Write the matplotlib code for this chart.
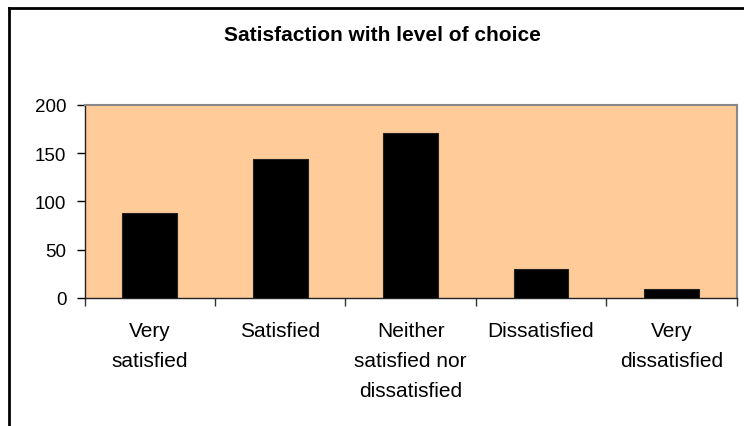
import matplotlib
matplotlib.use("Agg")
import matplotlib.pyplot as plt
from matplotlib.lines import Line2D

categories = ["Very\nsatisfied", "Satisfied", "Neither\nsatisfied nor\ndissatisfied",
              "Dissatisfied", "Very\ndissatisfied"]
values = [88, 144, 171, 30, 9]
yticks = [0, 50, 100, 150, 200]
title = "Satisfaction with level of choice"

plt.rcParams['font.family'] = ['Liberation Sans', 'DejaVu Sans']

fig = plt.figure(figsize=(7.44, 4.27), dpi=100)
ax = fig.add_axes([84.5/744, 1-299/427, (736.7-84.5)/744, (299-105.7)/427])
ax.set_facecolor('#FFCC99')

x = list(range(len(categories)))
ax.bar(x, values, width=0.42, color='black', edgecolor='#222222', linewidth=0.8, zorder=3)

ax.set_xlim(-0.5, len(categories) - 0.5)
ax.set_ylim(0, 200)
ax.set_yticks(yticks)
ax.set_yticklabels([str(v) for v in yticks], fontsize=13.5)
ax.tick_params(axis='y', direction='out', length=6, width=1, pad=7, colors='black')

ax.set_xticks([i - 0.5 for i in range(len(categories) + 1)])
ax.set_xticklabels([])
ax.tick_params(axis='x', which='major', direction='out', length=6, width=1, colors='#333333')
ax.set_xticks(x, minor=True)
ax.set_xticklabels(categories, minor=True, fontsize=15, linespacing=1.72)
ax.tick_params(axis='x', which='minor', length=0, pad=16.5)

for s in ['top', 'right']:
    ax.spines[s].set_color('#888888')
    ax.spines[s].set_linewidth(1.5)
for s in ['left', 'bottom']:
    ax.spines[s].set_color('#222222')
    ax.spines[s].set_linewidth(1)

fig.text(382/744, 1-40.7/427, title, ha='center', va='baseline', fontsize=15, fontweight='bold')

# chart border (left and top visible)
fig.add_artist(Line2D([8.5/744, 8.5/744], [0, 1-8.5/427], transform=fig.transFigure,
                      color='black', linewidth=2))
fig.add_artist(Line2D([8.5/744, 1], [1-8.5/427, 1-8.5/427], transform=fig.transFigure,
                      color='black', linewidth=2))

fig.savefig("out.png", dpi=100)
